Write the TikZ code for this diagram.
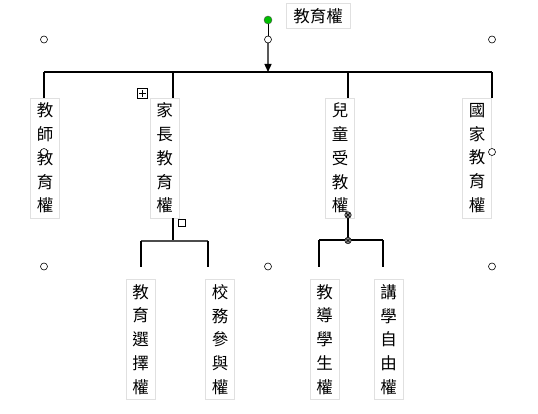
\documentclass[tikz,border=0pt]{standalone}
\usepackage{fontspec}
\newfontfamily\cjk{Noto Sans CJK TC}
\usetikzlibrary{arrows.meta}
\tikzset{
  tate/.style={draw=black!12, inner sep=0pt, minimum width=29pt, minimum height=120pt,
    align=center, font=\cjk\fontsize{16.5}{23.8}\selectfont},
  handle/.style={circle, draw, fill=white, line width=0.6pt, inner sep=0pt, minimum size=7pt},
  link/.style={line width=1.1pt},
}
\begin{document}
\begin{tikzpicture}[x=1pt, y=-1pt]
    \useasboundingbox (0,0) rectangle (538,414);

    % boxes
    \node[draw=black!12, inner sep=0pt, minimum width=64pt, minimum height=25pt,
      font=\cjk\fontsize{16.5}{20}\selectfont] (root) at (318,16) {教育權};
    \node[tate] (teacher) at (45,158) {教\\師\\教\\育\\權};
    \node[tate] (parent) at (164.5,158) {家\\長\\教\\育\\權};
    \node[tate] (child) at (340,158) {兒\\童\\受\\教\\權};
    \node[tate] (state) at (477,158) {國\\家\\教\\育\\權};
    \node[tate] (choice) at (140.5,339.5) {教\\育\\選\\擇\\權};
    \node[tate] (affairs) at (220,339.5) {校\\務\\參\\與\\權};
    \node[tate] (guide) at (324.5,339.5) {教\\導\\學\\生\\權};
    \node[tate] (freedom) at (388.5,339.5) {講\\學\\自\\由\\權};

    % junctions
    \coordinate (top) at (268,20);
    \coordinate (mid) at (268,39.5);
    \coordinate (hub) at (268,72);
    \coordinate (bA) at (44,72);
    \coordinate (bB) at (173,72);
    \coordinate (bC) at (348,72);
    \coordinate (bD) at (492,72);
    \coordinate (jB) at (173,241);
    \coordinate (lB) at (141,241);
    \coordinate (rB) at (208,241);
    \coordinate (eB1) at (141,267);
    \coordinate (eB2) at (208,267);
    \coordinate (jC) at (348,240);
    \coordinate (lC) at (319,240);
    \coordinate (rC) at (383,240);
    \coordinate (eC1) at (319,267);
    \coordinate (eC2) at (383,267);

    % lines
    \draw[line width=0.7pt] (top) -- (mid);
    \draw[line width=1.4pt, black!65, -{Triangle[length=8pt, width=7pt, color=black]}] (mid) -- (hub);
    \draw[link] (bA) -- (bD);
    \draw[link] (bA) -- (bA |- teacher.north);
    \draw[link] (bB) -- (bB |- parent.north);
    \draw[link] (bC) -- (bC |- child.north);
    \draw[link] (bD) -- (bD |- state.north);
    \draw[link] (jB |- parent.south) -- (jB);
    \draw[link, black!70, line width=1.4pt] (lB) -- (rB);
    \draw[link] (lB) -- (eB1);
    \draw[link] (rB) -- (eB2);
    \draw[link] (jC |- child.south) -- (jC);
    \draw[link] (lC) -- (rC);
    \draw[link] (lC) -- (eC1);
    \draw[link] (rC) -- (eC2);

    % handles
    \foreach \p [count=\i] in {(44,39.5), (268,39.5), (492,39.5), (44,152), (492,152), (44,266.5), (268,266.5), (492,266.5)}
      \node[handle] (h\i) at \p {};
    \node[circle, draw=black!70, fill=green!75!black, inner sep=0pt, minimum size=8pt] (rot) at (top) {};
    \node[draw, fill=white, line width=0.6pt, inner sep=0pt, minimum size=7pt] (size) at (182,223) {};
    \foreach \p [count=\i] in {(348,215), (348,240.5)}
      \node[circle, draw, fill=black!45, line width=0.5pt, inner sep=0pt, minimum size=6.5pt,
        path picture={\draw[line width=0.5pt] (path picture bounding box.south west) -- (path picture bounding box.north east)
          (path picture bounding box.north west) -- (path picture bounding box.south east);}] (x\i) at \p {};
    \node[draw, line width=0.7pt, inner sep=0pt, minimum size=10pt] (move) at (142.5,93.5) {};
    \draw[line width=0.6pt] (move.center) +(-3.5,0) -- +(3.5,0) (move.center) +(0,-3.5) -- +(0,3.5);

  \end{tikzpicture}
\end{document}
